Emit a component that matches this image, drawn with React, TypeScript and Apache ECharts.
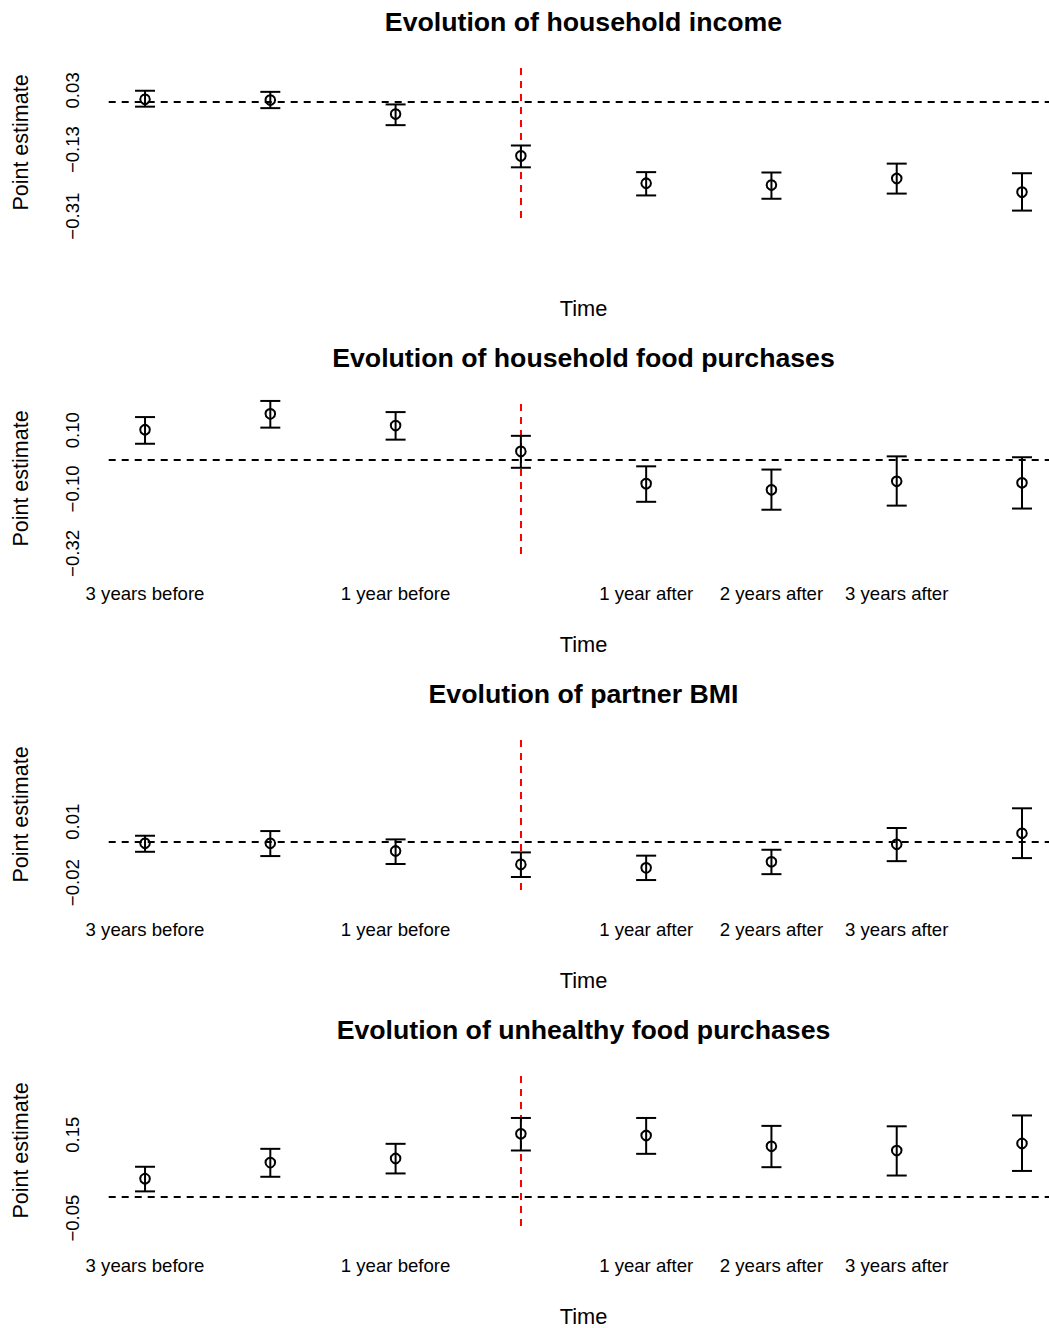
import React, { useEffect, useRef } from "react";
import * as echarts from "echarts";

const FONT = '"Liberation Sans", Arial, Helvetica, sans-serif';

// Periods (x positions 1..8); the treatment year is period 4
const periods = [1, 2, 3, 4, 5, 6, 7, 8];
const treatmentPeriod = 4;
const xTickPositions = [1, 3, 5, 6, 7];
const xTickLabels = ["3 years before", "1 year before", "1 year after", "2 years after", "3 years after"];

const titles = [
  "Evolution of household income",
  "Evolution of household food purchases",
  "Evolution of partner BMI",
  "Evolution of unhealthy food purchases",
];

// Panel 1: household income
const incomeEst = [0.006, 0.004, -0.034, -0.147, -0.221, -0.226, -0.208, -0.245];
const incomeLo = [-0.014, -0.018, -0.064, -0.178, -0.254, -0.263, -0.249, -0.295];
const incomeHi = [0.029, 0.026, -0.008, -0.119, -0.191, -0.192, -0.168, -0.194];
const incomeTicks = [0.03, -0.13, -0.31];
const incomeRange = [-0.315, 0.0932];

// Panel 2: household food purchases
const foodEst = [0.102, 0.156, 0.116, 0.028, -0.082, -0.103, -0.074, -0.079];
const foodLo = [0.054, 0.109, 0.068, -0.028, -0.144, -0.171, -0.157, -0.167];
const foodHi = [0.145, 0.2, 0.162, 0.081, -0.023, -0.034, 0.011, 0.008];
const foodTicks = [0.1, -0.1, -0.32];
const foodRange = [-0.322, 0.193];

// Panel 3: partner BMI
const bmiEst = [-0.0006, -0.0006, -0.0044, -0.011, -0.0127, -0.0097, -0.0011, 0.0043];
const bmiLo = [-0.0048, -0.0069, -0.0108, -0.0172, -0.0187, -0.0158, -0.0094, -0.0079];
const bmiHi = [0.0031, 0.0054, 0.0013, -0.0051, -0.0067, -0.0038, 0.0069, 0.0166];
const bmiTicks = [0.01, -0.02];
const bmiRange = [-0.0236, 0.0507];

// Panel 4: unhealthy food purchases
const unhealthyEst = [0.0445, 0.083, 0.093, 0.152, 0.148, 0.122, 0.112, 0.129];
const unhealthyLo = [0.014, 0.049, 0.057, 0.112, 0.104, 0.072, 0.052, 0.063];
const unhealthyHi = [0.073, 0.116, 0.128, 0.19, 0.19, 0.171, 0.17, 0.196];
const unhealthyTicks = [0.15, -0.05];
const unhealthyRange = [-0.069, 0.293];

const panels = [
  { est: incomeEst, lo: incomeLo, hi: incomeHi, ticks: incomeTicks, range: incomeRange },
  { est: foodEst, lo: foodLo, hi: foodHi, ticks: foodTicks, range: foodRange },
  { est: bmiEst, lo: bmiLo, hi: bmiHi, ticks: bmiTicks, range: bmiRange },
  { est: unhealthyEst, lo: unhealthyLo, hi: unhealthyHi, ticks: unhealthyTicks, range: unhealthyRange },
];

const X_MIN = 0.71;
const X_MAX = 8.2155;
const GRID_LEFT = 108.7;
const GRID_TOP0 = 67;
const PANEL_STEP = 336;
const GRID_HEIGHT = 151;
const TITLE_CENTER_X = 583.5;

const fmtY = (v: number) => (v < 0 ? "\u2212" : "") + Math.abs(v).toFixed(2);

function renderErrorBar(params: any, api: any) {
  const x = api.value(0);
  const pe = api.coord([x, api.value(1)]);
  const pl = api.coord([x, api.value(2)]);
  const ph = api.coord([x, api.value(3)]);
  const cap = 10;
  const st = { stroke: "#000", lineWidth: 2, fill: "none" };
  return {
    type: "group",
    children: [
      { type: "line", shape: { x1: pl[0], y1: pl[1], x2: ph[0], y2: ph[1] }, style: st },
      { type: "line", shape: { x1: pl[0] - cap, y1: pl[1], x2: pl[0] + cap, y2: pl[1] }, style: st },
      { type: "line", shape: { x1: ph[0] - cap, y1: ph[1], x2: ph[0] + cap, y2: ph[1] }, style: st },
      { type: "circle", shape: { cx: pe[0], cy: pe[1], r: 4.8 }, style: { stroke: "#000", lineWidth: 2, fill: "none" } },
    ],
  };
}

export default function App() {
  const ref = useRef<HTMLDivElement>(null);
  useEffect(() => {
    if (!ref.current) return;
    const chart = echarts.init(ref.current, null, { renderer: "svg" });
    const grids: any[] = [];
    const xAxes: any[] = [];
    const yAxes: any[] = [];
    const series: any[] = [];
    const graphics: any[] = [];
    panels.forEach((p, i) => {
      const top = GRID_TOP0 + PANEL_STEP * i;
      grids.push({ left: GRID_LEFT, top, right: 0, height: GRID_HEIGHT, containLabel: false });
      xAxes.push({
        type: "value",
        gridIndex: i,
        min: X_MIN,
        max: X_MAX,
        axisLine: { show: false },
        axisTick: { show: false },
        splitLine: { show: false },
        axisLabel: {
          show: i > 0,
          customValues: xTickPositions,
          formatter: (v: number) => {
            const k = xTickPositions.indexOf(Math.round(v));
            return k >= 0 ? xTickLabels[k] : "";
          },
          margin: 30,
          fontSize: 18.6,
          color: "#000",
          fontFamily: FONT,
        },
        name: "Time",
        nameLocation: "middle",
        nameGap: 79,
        nameTextStyle: { fontSize: 21.8, color: "#000", fontFamily: FONT, padding: [0, 0, 0, 9.4] },
      });
      yAxes.push({
        type: "value",
        gridIndex: i,
        min: p.range[0],
        max: p.range[1],
        axisLine: { show: false },
        axisTick: { show: false },
        splitLine: { show: false },
        axisLabel: {
          customValues: p.ticks,
          rotate: 90,
          formatter: (v: number) => fmtY(v),
          margin: 27,
          fontSize: 18.6,
          color: "#000",
          fontFamily: FONT,
        },
        name: "Point estimate",
        nameLocation: "middle",
        nameGap: 77,
        nameTextStyle: { fontSize: 21.5, color: "#000", fontFamily: FONT },
      });
      series.push({
        type: "line",
        xAxisIndex: i,
        yAxisIndex: i,
        data: [],
        silent: true,
        markLine: {
          silent: true,
          symbol: "none",
          animation: false,
          label: { show: false },
          data: [
            { yAxis: 0, lineStyle: { color: "#000", width: 2, type: [7, 6] } },
            { xAxis: treatmentPeriod, lineStyle: { color: "#ff0000", width: 2, type: [7, 6] } },
          ],
        },
      });
      series.push({
        type: "custom",
        xAxisIndex: i,
        yAxisIndex: i,
        clip: false,
        silent: true,
        renderItem: renderErrorBar,
        encode: { x: 0, y: [1, 2, 3] },
        data: periods.map((x, j) => [x, p.est[j], p.lo[j], p.hi[j]]),
        z: 5,
      });
      graphics.push({
        type: "text",
        x: TITLE_CENTER_X,
        y: 22 + PANEL_STEP * i,
        style: {
          text: titles[i],
          font: `bold 26.7px ${FONT}`,
          fill: "#000",
          textAlign: "center",
          textVerticalAlign: "middle",
          align: "center",
          verticalAlign: "middle",
        },
      });
    });
    chart.setOption({
      animation: false,
      backgroundColor: "#fff",
      textStyle: { fontFamily: FONT },
      grid: grids,
      xAxis: xAxes,
      yAxis: yAxes,
      series,
      graphic: graphics,
    });
    return () => chart.dispose();
  }, []);
  return (
    <div
      ref={ref}
      style={{ position: "absolute", left: 0, top: 0, width: 1049, height: 1328, background: "#fff" }}
    />
  );
}
